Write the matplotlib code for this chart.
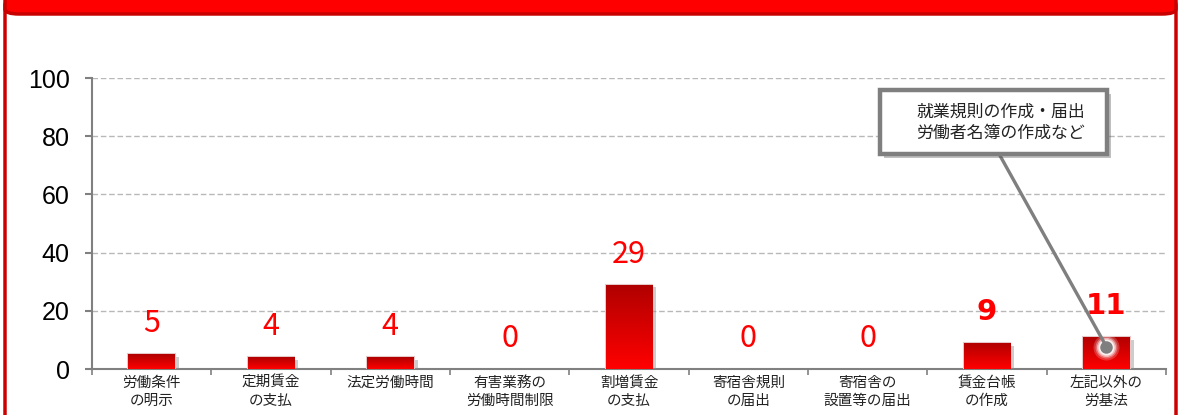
import numpy as np
import matplotlib
matplotlib.use("Agg")
import matplotlib.pyplot as plt
import matplotlib.patheffects as pe
from matplotlib.patches import FancyBboxPatch, Rectangle

plt.rcParams['font.family'] = ['Noto Sans CJK JP', 'DejaVu Sans']

categories = ["労働条件\nの明示", "定期賃金\nの支払", "法定労働時間", "有害業務の\n労働時間制限",
              "割増賃金\nの支払", "寄宿舎規則\nの届出", "寄宿舎の\n設置等の届出", "賃金台帳\nの作成",
              "左記以外の\n労基法"]
values = [5, 4, 4, 0, 29, 0, 0, 9, 11]
yticks = [0, 20, 40, 60, 80, 100]
callout = "就業規則の作成・届出\n労働者名簿の作成など"

W, H = 1182, 415
fig = plt.figure(figsize=(W / 100, H / 100), dpi=100)

def fx(px):
    return px / W

def fy(py):
    return 1 - py / H

# red frame round the chart
frame = FancyBboxPatch((fx(5), fy(440)), fx(1171), 440 / H,
                       boxstyle="round,pad=0,rounding_size=0.012",
                       transform=fig.transFigure, facecolor="white",
                       edgecolor="#cc0000", lw=2.5, zorder=0)
fig.add_artist(frame)
band = FancyBboxPatch((fx(5), fy(14)), fx(1171), 40 / H,
                      boxstyle="round,pad=0,rounding_size=0.012",
                      transform=fig.transFigure, facecolor="#ff0000",
                      edgecolor="#c80000", lw=2.5, zorder=1)
fig.add_artist(band)

ax = fig.add_axes([fx(92), fy(369), fx(1166 - 92), (369 - 78) / H])
x = np.arange(len(values))
ax.set_xlim(-0.5, len(values) - 0.5)
ax.set_ylim(0, 100)

for s in ["top", "right"]:
    ax.spines[s].set_visible(False)
for s in ["left", "bottom"]:
    ax.spines[s].set_color("#808080")
    ax.spines[s].set_linewidth(1.5)

ax.set_yticks(yticks)
ax.set_yticklabels([str(t) for t in yticks], family="Liberation Sans", fontsize=18)
ax.tick_params(axis="y", length=5, color="#808080", width=1.5, pad=11)
ax.yaxis.grid(True, color="#b8b8b8", ls=(0, (4, 2)), lw=1)
ax.set_axisbelow(True)

ax.set_xticks(x)
ax.set_xticklabels(categories, fontsize=10.5, color="#222222", linespacing=1.35)
ax.tick_params(axis="x", length=0, pad=5)
ax.set_xticks(np.arange(len(values) + 1) - 0.5, minor=True)
ax.tick_params(axis="x", which="minor", length=4, color="#808080", width=1.2)

# bars with gradient and shadow
grad = np.linspace(0, 1, 100).reshape(-1, 1)
cmap = matplotlib.colors.LinearSegmentedColormap.from_list("rg", ["#ff0000", "#b00000"])
bw = 0.39
for xi, v in zip(x, values):
    if v == 0:
        continue
    b = ax.bar(xi, v, width=bw, color="#dd0000", edgecolor="#e6c8c8", lw=1.5, zorder=3,
               path_effects=[pe.SimplePatchShadow(offset=(3, -2), shadow_rgbFace="#909090", alpha=0.45),
                             pe.Normal()])[0]
    im = ax.imshow(grad, extent=(b.get_x(), b.get_x() + bw, 0, v), origin="lower",
                   cmap=cmap, aspect="auto", zorder=4)
    im.set_clip_path(b)

for xi, v in zip(x, values):
    bold = v in (9, 11)
    ax.annotate(str(v), (xi, v), xytext=(0, 22), textcoords="offset points",
                ha="center", va="center", color="#ff0000",
                fontsize=22 if not bold else 21, fontweight="bold" if bold else "normal",
                family="DejaVu Sans" if bold else ["Noto Sans CJK JP", "DejaVu Sans"],
                zorder=6, annotation_clip=False)

# callout to last bar
dot = (x[-1], values[-1] * 0.7)
for r, a in [(13, 0.2), (11, 0.3), (9.5, 0.5), (8, 0.8)]:
    ax.plot(*dot, "o", ms=r * 2 * 0.72, color="white", alpha=a, mec="none", zorder=7)
ax.plot(*dot, "o", ms=9, color="#7f7f7f", mec="none", zorder=9)
ax.annotate("", xy=dot, xytext=(fx(998), fy(152)), textcoords="figure fraction",
            arrowprops=dict(arrowstyle="-", color="#7f7f7f", lw=2.4, shrinkA=0, shrinkB=0),
            zorder=8, annotation_clip=False)

box = Rectangle((fx(880), fy(154)), fx(1107 - 880), (154 - 90) / H,
                transform=fig.transFigure, facecolor="white", edgecolor="#7f7f7f", lw=3.2,
                zorder=10, path_effects=[pe.SimplePatchShadow(offset=(3, -3), alpha=0.35), pe.Normal()])
fig.add_artist(box)
fig.text(fx(1001), fy(122), callout, ha="center", va="center", fontsize=12.2,
         linespacing=1.2, color="#222222", zorder=11)

fig.savefig("out.png", dpi=100)
